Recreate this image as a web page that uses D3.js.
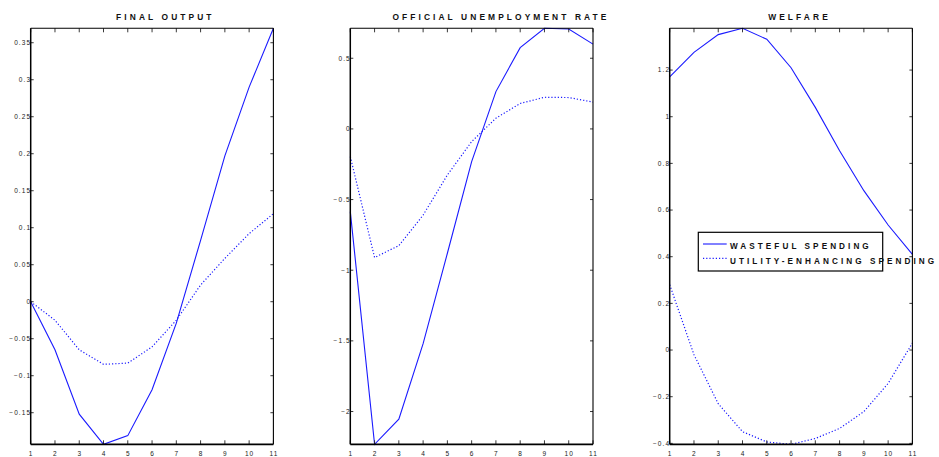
<!DOCTYPE html>
<html>
<head>
<meta charset="utf-8">
<script src="https://cdn.jsdelivr.net/npm/d3@7/dist/d3.min.js"></script>
<style>
  html, body { margin: 0; padding: 0; background: #fff; }
  svg { display: block; }
  .tick-label { font-family: "Liberation Sans", Arial, sans-serif; font-size: 6.5px; letter-spacing: 1.1px; fill: #1a1a1a; }
  .title { font-family: "Liberation Sans", Arial, sans-serif; font-size: 8.4px; font-weight: bold; letter-spacing: 3.1px; fill: #111; }
  .legend-text { font-family: "Liberation Sans", Arial, sans-serif; font-size: 8.2px; font-weight: bold; letter-spacing: 3.05px; fill: #111; }
</style>
</head>
<body>
<svg id="chart" width="939" height="457"></svg>
<script>
// Horizon (periods) shared by every panel
const periods = [1, 2, 3, 4, 5, 6, 7, 8, 9, 10, 11];

// Final output
const outputWasteful = [0, -0.065, -0.152, -0.1927, -0.181, -0.119, -0.029, 0.083, 0.197, 0.290, 0.3695];
const outputUtility  = [0, -0.025, -0.065, -0.0846, -0.083, -0.061, -0.025, 0.0226, 0.0586, 0.092, 0.119];
const outputTicks = [-0.15, -0.1, -0.05, 0, 0.05, 0.1, 0.15, 0.2, 0.25, 0.3, 0.35];

// Official unemployment rate
const unempWasteful = [-0.585, -2.232, -2.054, -1.52, -0.88, -0.231, 0.264, 0.575, 0.712, 0.707, 0.60];
const unempUtility  = [-0.196, -0.91, -0.826, -0.61, -0.326, -0.09, 0.076, 0.18, 0.224, 0.222, 0.19];
const unempTicks = [-2, -1.5, -1, -0.5, 0, 0.5];

// Welfare
const welfareWasteful = [1.171, 1.276, 1.352, 1.379, 1.332, 1.21, 1.040, 0.854, 0.683, 0.536, 0.41];
const welfareUtility  = [0.28, -0.02, -0.23, -0.35, -0.394, -0.404, -0.379, -0.336, -0.264, -0.143, 0.03];
const welfareTicks = [-0.4, -0.2, 0, 0.2, 0.4, 0.6, 0.8, 1, 1.2];

const titles = ["FINAL OUTPUT", "OFFICIAL UNEMPLOYMENT RATE", "WELFARE"];
const seriesNames = ["WASTEFUL SPENDING", "UTILITY-ENHANCING SPENDING"];

const panels = [
  { title: titles[0], series: [outputWasteful, outputUtility], ticks: outputTicks },
  { title: titles[1], series: [unempWasteful, unempUtility], ticks: unempTicks },
  { title: titles[2], series: [welfareWasteful, welfareUtility], ticks: welfareTicks }
];

const svg = d3.select("#chart");
const lineColor = "#1a1aff";
const panelLefts = [30.7, 350.3, 669.7];
const panelWidth = 242.7;
const plotTop = 28.3, plotBottom = 444.3;
const fmt = v => d3.format("~g")(+v.toFixed(4));

panels.forEach((p, i) => {
  const x0 = panelLefts[i], x1 = x0 + panelWidth;
  const all = p.series.flat();
  const x = d3.scaleLinear().domain(d3.extent(periods)).range([x0, x1]);
  const y = d3.scaleLinear().domain(d3.extent(all)).range([plotBottom, plotTop]);

  const g = svg.append("g");

  // data lines
  const line = d3.line().x((d, k) => x(periods[k])).y(d => y(d));
  p.series.forEach((s, k) => {
    g.append("path")
      .datum(s)
      .attr("d", line)
      .attr("fill", "none")
      .attr("stroke", lineColor)
      .attr("stroke-width", k === 0 ? 1.1 : 1.2)
      .attr("stroke-dasharray", k === 0 ? null : "1.2,2");
  });

  // inward ticks on all four sides
  const tickColor = "#222";
  periods.forEach(v => {
    g.append("line").attr("x1", x(v)).attr("x2", x(v)).attr("y1", plotBottom).attr("y2", plotBottom - 4)
      .attr("stroke", tickColor).attr("stroke-width", 0.9);
    g.append("line").attr("x1", x(v)).attr("x2", x(v)).attr("y1", plotTop).attr("y2", plotTop + 4)
      .attr("stroke", tickColor).attr("stroke-width", 0.9);
    g.append("text").attr("class", "tick-label")
      .attr("x", x(v) + 0.5).attr("y", plotBottom + 11.8)
      .attr("text-anchor", "middle").text(v);
  });
  p.ticks.forEach(v => {
    g.append("line").attr("x1", x0).attr("x2", x0 + 3).attr("y1", y(v)).attr("y2", y(v))
      .attr("stroke", tickColor).attr("stroke-width", 0.9);
    g.append("line").attr("x1", x1).attr("x2", x1 - 3).attr("y1", y(v)).attr("y2", y(v))
      .attr("stroke", tickColor).attr("stroke-width", 0.9);
    g.append("text").attr("class", "tick-label")
      .attr("x", x0 + 0.5).attr("y", y(v) + 2.3)
      .attr("text-anchor", "end").text(fmt(v));
  });

  // axes box
  g.append("line").attr("x1", x0).attr("x2", x0).attr("y1", plotTop).attr("y2", plotBottom)
    .attr("stroke", "#000").attr("stroke-width", 1.5);
  g.append("line").attr("x1", x0).attr("x2", x1).attr("y1", plotBottom).attr("y2", plotBottom)
    .attr("stroke", "#000").attr("stroke-width", 1.7);
  g.append("line").attr("x1", x0).attr("x2", x1).attr("y1", plotTop).attr("y2", plotTop)
    .attr("stroke", "#000").attr("stroke-width", 1.1);
  g.append("line").attr("x1", x1).attr("x2", x1).attr("y1", plotTop).attr("y2", plotBottom)
    .attr("stroke", "#000").attr("stroke-width", 1.1);

  // title
  const t = g.append("text").attr("class", "title").attr("y", 19.5).text(p.title);
  const w = t.node().getComputedTextLength();
  t.attr("x", (x0 + x1) / 2 - 0.365 * w);

  // legend inside the welfare panel
  if (i === 2) {
    const lx = x0 + 28.6, ly = 232.3;
    const lg = svg.append("g");
    lg.append("rect").attr("x", lx).attr("y", ly).attr("width", 184.4).attr("height", 38.7)
      .attr("fill", "#fff").attr("stroke", "#000").attr("stroke-width", 1.2);
    seriesNames.forEach((name, k) => {
      const base = ly + 17 + k * 14.3;
      lg.append("line").attr("x1", lx + 4.7).attr("x2", lx + 28.4)
        .attr("y1", base - 5.3).attr("y2", base - 5.3)
        .attr("stroke", lineColor).attr("stroke-width", k === 0 ? 1.1 : 1.2)
        .attr("stroke-dasharray", k === 0 ? null : "1.2,2");
      lg.append("text").attr("class", "legend-text")
        .attr("x", lx + 31.7).attr("y", base).text(name);
    });
  }
});
</script>
</body>
</html>
